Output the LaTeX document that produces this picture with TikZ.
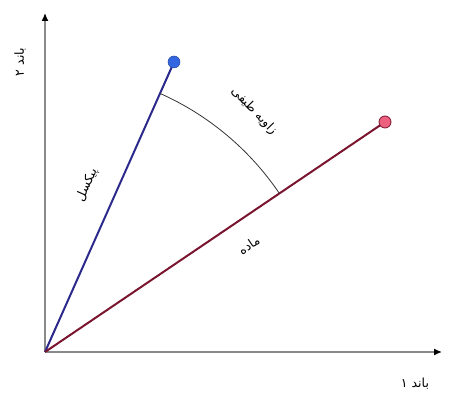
\documentclass[tikz,border=0pt]{standalone}
\usepackage{fontspec}
\newfontfamily\arabicfont[Script=Arabic]{DejaVu Sans}
\TeXXeTstate=1
\usetikzlibrary{arrows.meta}
\definecolor{axisgray}{HTML}{8A8A8A}
\definecolor{pixline}{HTML}{2B2A8C}
\definecolor{pixdot}{HTML}{3366E0}
\definecolor{matline}{HTML}{7A1530}
\definecolor{matdot}{HTML}{EE6080}
\tikzset{
  axisline/.style={draw=axisgray, line width=1.4pt, -{Latex[black,length=8pt,width=7pt]}},
  lbl/.style={font=\arabicfont\fontsize{12.5}{14}\selectfont, inner sep=1pt},
  enddot/.style={circle, minimum size=12pt, inner sep=0pt},
}
\begin{document}
\begin{tikzpicture}[x=1pt,y=1pt]
\useasboundingbox (0,0) rectangle (449,398);
\coordinate (o) at (45,46);
\coordinate (xe) at (442,46);
\coordinate (ye) at (45,385);
\draw[axisline] (o) -- (xe);
\draw[axisline] (o) -- (ye);
\node[enddot] (b) at (174,336) {};
\node[enddot] (r) at (385,276) {};
\draw[pixline, line width=2pt] (o) -- (b.center);
\draw[matline, line width=2pt] (o) -- (r.center);
\node[enddot, fill=pixdot, draw=pixdot!70!black, line width=0.5pt] at (b) {};
\node[enddot, fill=matdot, draw=matline, line width=0.8pt] at (r) {};
\draw[black!80, line width=0.8pt] ([shift={(66:283)}]o) arc[start angle=66, end angle=34.1, radius=283];
\node[lbl, rotate=90] (ylab) at (20,336) {\beginR باند ۲\endR};
\node[lbl] (xlab) at (415,14) {\beginR باند ۱\endR};
\node[lbl, rotate=66] (plab) at (87,213) {\beginR پیکسل\endR};
\node[lbl, rotate=-46] (alab) at (254,287) {\beginR زاویه طیفی\endR};
\node[lbl, rotate=34] (mlab) at (249,153) {\beginR ماده\endR};
\end{tikzpicture}
\end{document}
